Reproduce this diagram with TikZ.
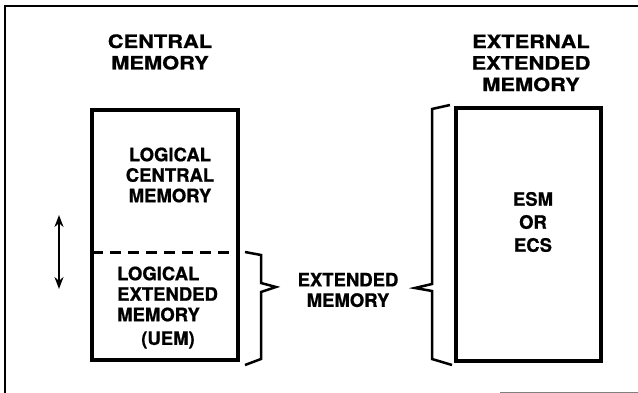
\documentclass[tikz,border=0pt]{standalone}
\usepackage{fontspec}
\setmainfont{TeX Gyre Heros}[FakeBold=0.8]
\newfontfamily\hdrfont{TeX Gyre Heros}[FakeStretch=1.18,FakeBold=0.8]
\usetikzlibrary{arrows.meta}
\begin{document}
\begin{tikzpicture}[x=1pt,y=-1pt,
  txt/.style={inner sep=0pt,align=center,font=\fontsize{18.5}{20.5}\selectfont\bfseries},
  hdr/.style={inner sep=0pt,align=center,font=\hdrfont\fontsize{18.5}{21.5}\selectfont\bfseries},
  membox/.style={draw,line width=3.4pt,inner sep=0pt},
  frameline/.style={line width=2.8pt},
  brace/.style={line width=2.5pt,line join=miter},
  dbl/.style={line width=2.3pt,{Stealth[length=12pt,width=9pt]}-{Stealth[length=12pt,width=9pt]}}]
\useasboundingbox (0,0) rectangle (638,393);
% outer frame (partial, as in scan)
\coordinate (ftl) at (5,6);
\coordinate (ftr) at (638,6);
\coordinate (fbl) at (5,393);
\draw[frameline] (ftr) -- (ftl) -- (fbl);
\coordinate (fb1) at (500,392);
\coordinate (fb2) at (638,392);
\draw[line width=0.8pt,gray] (fb1) -- (fb2);
% headers
\node[hdr] (hcm) at (160,52) {CENTRAL\\MEMORY};
\node[hdr] (hext) at (531,63) {EXTERNAL\\EXTENDED\\MEMORY};
% boxes
\node[membox,minimum width=146pt,minimum height=250pt] (lbox) at (165,235) {};
\node[membox,minimum width=145pt,minimum height=253pt] (rbox) at (528.5,234.5) {};
% dashed divider
\coordinate (dl) at (92,253);
\coordinate (dr) at (238,253);
\draw[line width=3pt,dash pattern=on 11pt off 7pt] (dl) -- (dr);
% box texts
\node[txt] (lcm) at (170,175) {LOGICAL\\CENTRAL\\MEMORY};
\node[txt,align=left,anchor=west] (lem) at (117,294) {LOGICAL\\EXTENDED\\MEMORY};
\node[txt] (uem) at (168,340) {(UEM)};
\node[txt,font=\fontsize{18.5}{23}\selectfont\bfseries] (esm) at (533,222) {ESM\\OR\\ECS};
\node[txt] (em) at (348,290) {EXTENDED\\MEMORY};
% double arrow
\coordinate (at) at (59,215);
\coordinate (ab) at (59,289);
\draw[dbl] (at) -- (ab);
% brace right of left box
\coordinate (b1a) at (245,252);
\coordinate (b1b) at (261,255);
\coordinate (b1c) at (261,283);
\coordinate (b1t) at (276,287);
\coordinate (b1d) at (261,292);
\coordinate (b1e) at (261,359);
\coordinate (b1f) at (245,365);
\draw[brace] (b1a) -- (b1b) -- (b1c) -- (b1t) -- (b1d) -- (b1e) -- (b1f);
% brace left of right box
\coordinate (b2a) at (450,105);
\coordinate (b2b) at (432,109);
\coordinate (b2c) at (432,284);
\coordinate (b2t) at (415,288);
\coordinate (b2d) at (432,291);
\coordinate (b2e) at (432,359);
\coordinate (b2f) at (452,365);
\draw[brace] (b2a) -- (b2b) -- (b2c) -- (b2t) -- (b2d) -- (b2e) -- (b2f);
\end{tikzpicture}
\end{document}
